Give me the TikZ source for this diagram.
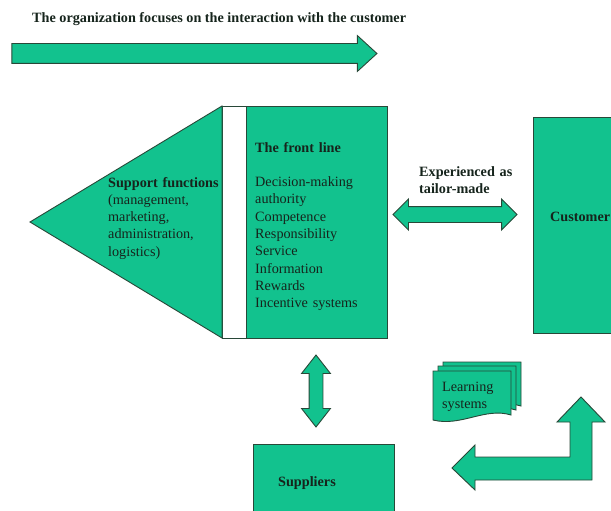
\documentclass[tikz,border=0pt]{standalone}
\usepackage{fontspec}
\setmainfont{Liberation Serif}
\usetikzlibrary{shapes.arrows,positioning}

\definecolor{boxgreen}{RGB}{18,194,142}
\definecolor{edgegreen}{RGB}{40,72,56}
\definecolor{inkgreen}{RGB}{22,36,28}

\tikzset{
    block/.style={draw=edgegreen, fill=boxgreen, line width=0.9pt, inner sep=0, outer sep=0},
    txt/.style={text=inkgreen, font=\fontsize{14.2}{17.3}\selectfont, inner sep=0, align=left},
    flowarrow/.style={block, single arrow, single arrow head extend=8, inner xsep=0, inner ysep=9.5},
    linkarrow/.style={block, double arrow, double arrow head extend=7.5, inner xsep=0},
}

% one sheet of the learning systems stack
\newcommand{\learnsheet}[2]{%
    \begin{scope}[shift={(#1,#2)}]
        \draw [block] (0,0) -- (78,0) -- (78,44) .. controls (52,36) and (28,56) .. (0,49) -- cycle;
    \end{scope}}

\begin{document}
\begin{tikzpicture}[x=1pt, y=-1pt]
        \useasboundingbox (0,0) rectangle (611,511);
        \clip (0,0) rectangle (611,511);
        \fill [white] (0,0) rectangle (611,511);

        % Nodes
        \node (title) [txt, anchor=base west] at (32,22.5) {\textbf{The organization focuses on the interaction with the customer}};
        \node (focus) [flowarrow, minimum height=365, single arrow tip angle=85] at (189,53.5) {};

        \node (strip) [block, fill=white, minimum width=24, minimum height=232] at (234,222) {};
        \node (frontline) [block, minimum width=141, minimum height=232, right=0 of strip] {};
        \coordinate (supporttip) at (30,222);
        \node (customer) [block, minimum width=100, minimum height=216] at (583,225) {};
        \node (suppliers) [block, minimum width=141, minimum height=76] at (323.5,482) {};

        % Support triangle
        \draw [block] (supporttip) -- (strip.north west) -- (strip.south west) -- cycle;

        % Texts
        \node (support) [txt, text width=112, anchor=base west] at (108,187) {\textbf{Support functions}\\(management,\\marketing,\\administration,\\logistics)};
        \node (duties) [txt, text width=130, anchor=base west] at (255,152) {\textbf{The front line}\\[17.3pt]Decision-making\\authority\\Competence\\Responsibility\\Service\\Information\\Rewards\\Incentive systems};
        \node (custlabel) [txt, anchor=base west] at (550,221) {\textbf{Customer}};
        \node (supplabel) [txt, anchor=base west] at (278,486) {\textbf{Suppliers}};
        \node (experienced) [txt, text width=100, anchor=base west] at (419,176) {\textbf{Experienced as}\\\textbf{tailor-made}};

        % Arrows
        \node (tailor) [linkarrow, inner ysep=7.5, minimum height=124] at (455,214.5) {};
        \node (supply) [linkarrow, inner ysep=6.5, minimum height=72, double arrow tip angle=76, rotate=90] at (316,391) {};
        \draw [block] (452,468) -- (475,445) -- (475,457) -- (570,457) -- (570,422) -- (557,422) -- (581,397)
            -- (605,422) -- (592,422) -- (592,480) -- (475,480) -- (475,490) -- cycle;

        % Learning systems
        \learnsheet{443}{362}
        \learnsheet{438}{366}
        \learnsheet{433}{371}
        \node (learning) [txt, font=\fontsize{14.2}{16.5}\selectfont, text width=60, anchor=base west] at (442,391.5) {Learning\\systems};

    \end{tikzpicture}
\end{document}
